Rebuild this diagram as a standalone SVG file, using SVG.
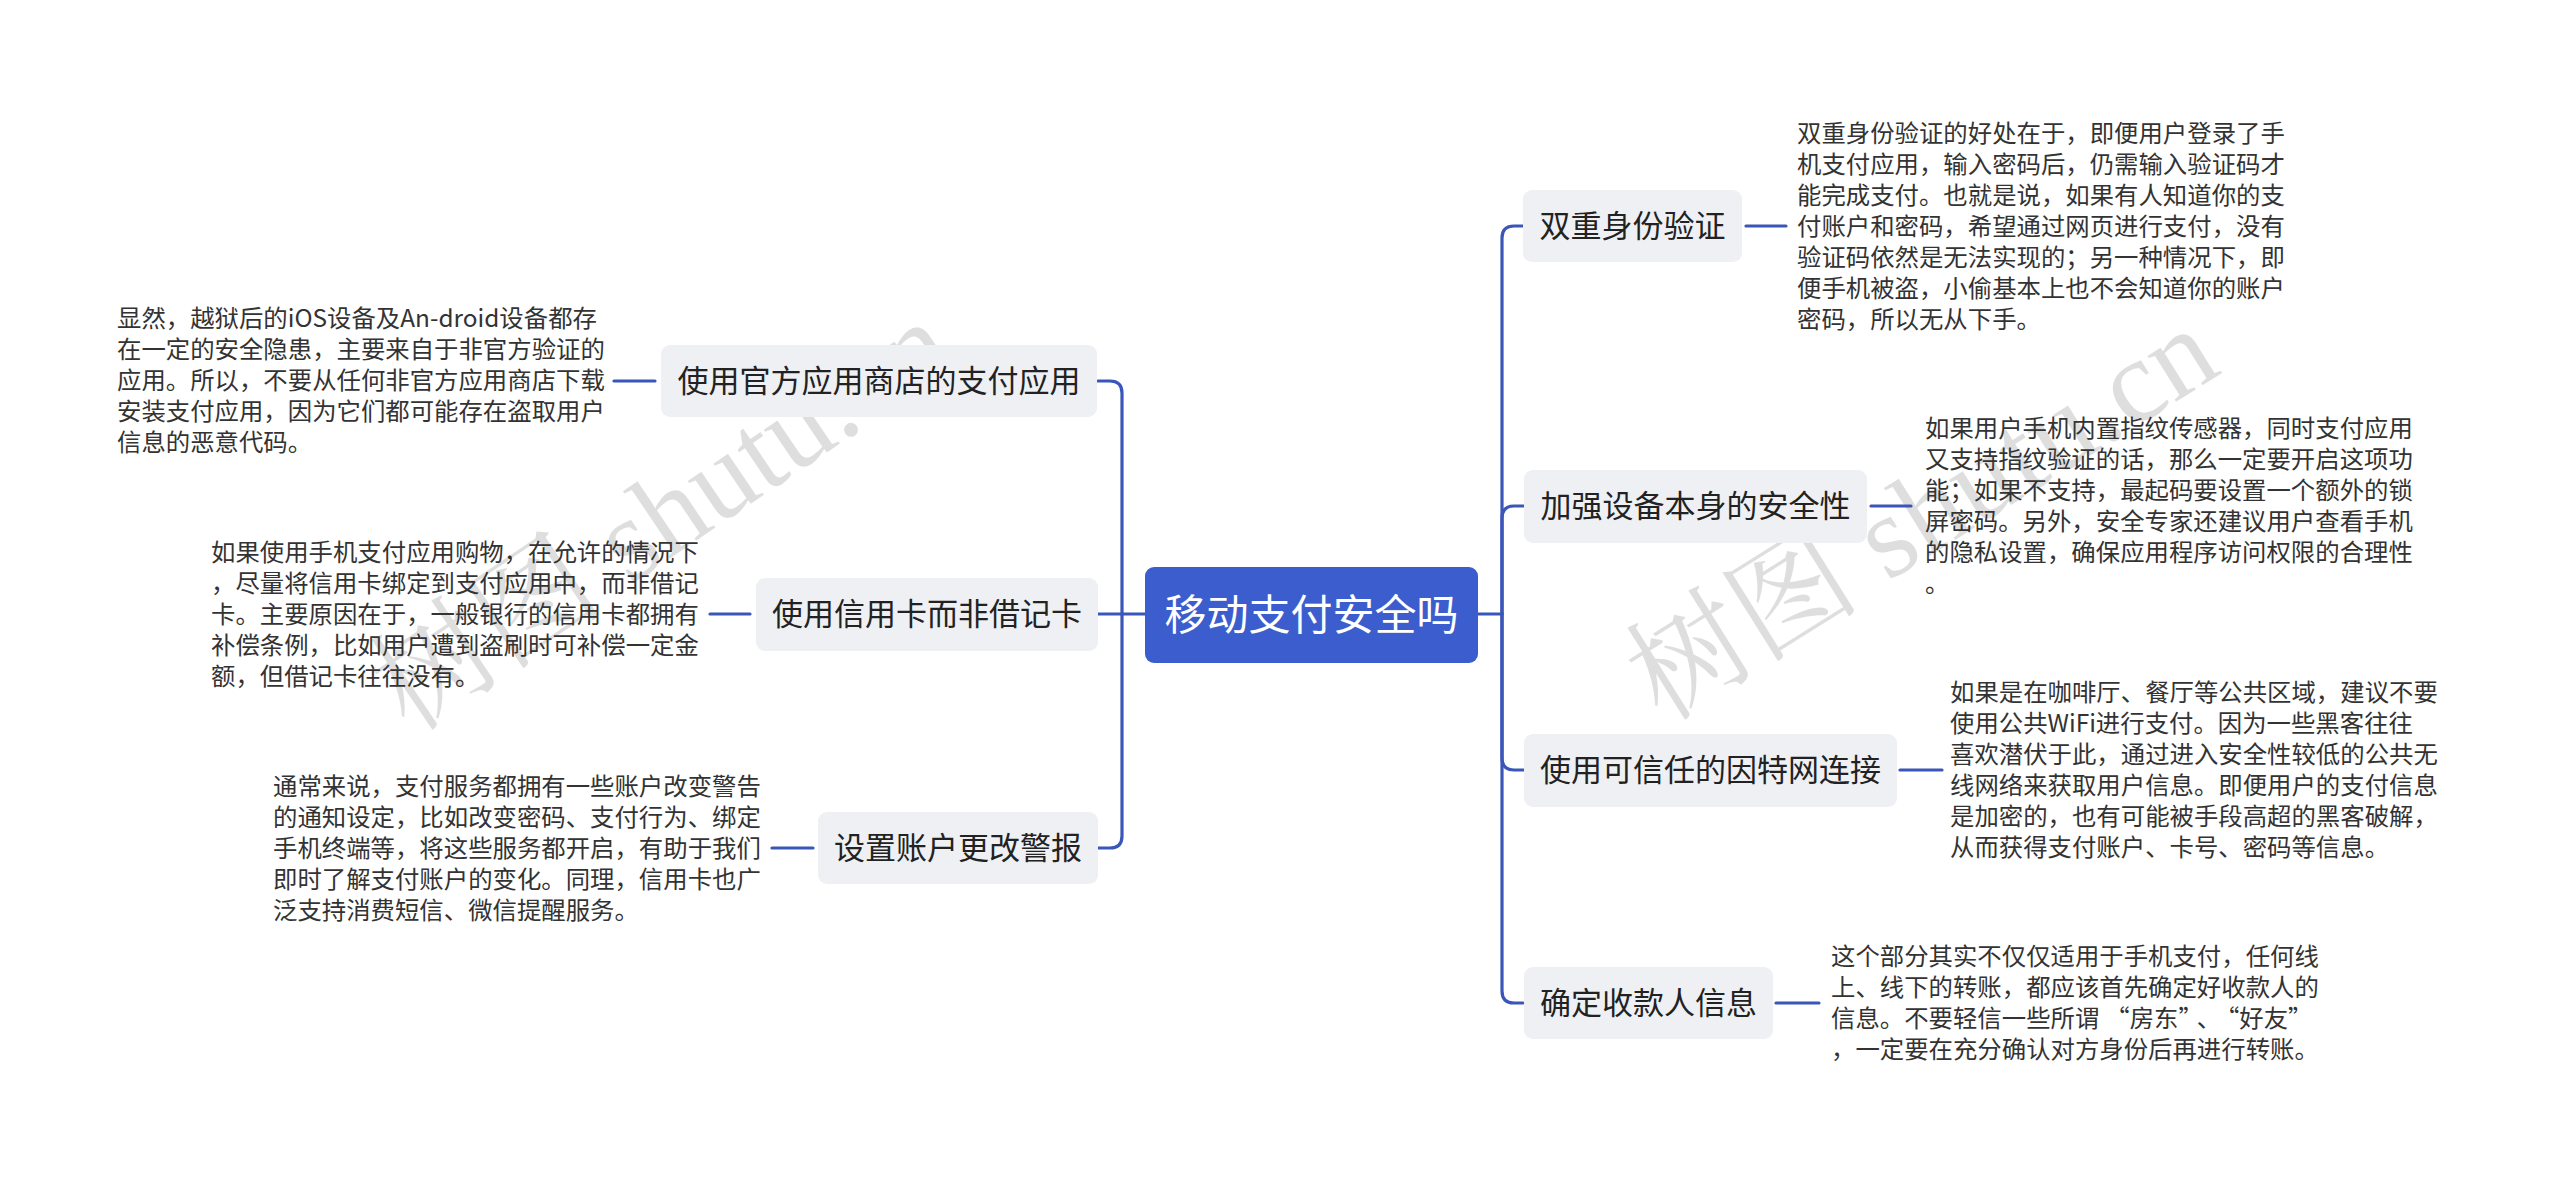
<svg xmlns="http://www.w3.org/2000/svg" width="2560" height="1183" viewBox="0 0 2560 1183">
<style>
.bg{fill:#ffffff}
.root rect{fill:#3c5dcd}
.root text{fill:#ffffff;font-family:"Noto Sans CJK SC","Noto Sans",sans-serif;font-size:42px;text-anchor:middle}
.branch rect{fill:#eef0f4}
.branch text{fill:#222222;font-family:"Noto Sans CJK SC","Noto Sans",sans-serif;font-size:31px;text-anchor:middle}
.desc text{fill:#333333;font-family:"Noto Sans CJK SC","Noto Sans",sans-serif;font-size:24.4px}
.conn path{fill:none;stroke:#3a56b8;stroke-width:3.2;stroke-linecap:round}
.wm{fill:#000000;fill-opacity:0.13;font-family:"Liberation Serif","Noto Serif CJK SC","Noto Sans CJK SC",serif;font-size:118px;text-anchor:middle;dominant-baseline:central}
</style>
<rect class="bg" x="0" y="0" width="2560" height="1183"/>

<g id="watermarks">
<text class="wm" x="662" y="516" transform="rotate(-34 662 516)">树图 shutu.cn</text>
<text class="wm" x="1922" y="514" transform="rotate(-32 1922 514)">树图 shutu.cn</text>
</g>

<g id="connectors" class="conn">
<path d="M1098,381 H1110 Q1122,381 1122,393 V836 Q1122,848 1110,848 H1098"/>
<path d="M1098,614 H1145"/>
<path d="M1478,614 H1502"/>
<path d="M1523,226 H1514 Q1502,226 1502,238 V991 Q1502,1003 1514,1003 H1523"/>
<path d="M1502,614 V518 Q1502,506 1514,506 H1524"/>
<path d="M1502,614 V758 Q1502,770 1514,770 H1524"/>
<path d="M614,381 H655"/>
<path d="M710,614 H750"/>
<path d="M772,848 H813"/>
<path d="M1746,226 H1786"/>
<path d="M1871,506 H1911"/>
<path d="M1900,770 H1942"/>
<path d="M1776,1003 H1819"/>
</g>

<g id="root" class="root">
<rect x="1145" y="567" width="333" height="96" rx="9"/>
<text x="1311.5" y="630">移动支付安全吗</text>
</g>

<g id="n-official" class="branch">
<rect x="661" y="345" width="436" height="72" rx="9"/>
<text x="879" y="392">使用官方应用商店的支付应用</text>
</g>
<g id="n-credit" class="branch">
<rect x="756" y="578" width="342" height="73" rx="9"/>
<text x="927" y="625">使用信用卡而非借记卡</text>
</g>
<g id="n-alert" class="branch">
<rect x="818" y="812" width="280" height="72" rx="9"/>
<text x="958" y="859">设置账户更改警报</text>
</g>
<g id="n-2fa" class="branch">
<rect x="1523" y="190" width="219" height="72" rx="9"/>
<text x="1632.5" y="237">双重身份验证</text>
</g>
<g id="n-device" class="branch">
<rect x="1524" y="470" width="343" height="73" rx="9"/>
<text x="1695.5" y="517">加强设备本身的安全性</text>
</g>
<g id="n-network" class="branch">
<rect x="1524" y="734" width="373" height="73" rx="9"/>
<text x="1710.5" y="781">使用可信任的因特网连接</text>
</g>
<g id="n-payee" class="branch">
<rect x="1524" y="967" width="249" height="72" rx="9"/>
<text x="1648.5" y="1014">确定收款人信息</text>
</g>

<g id="d-official" class="desc">
<text x="117" y="327">
<tspan x="117" y="327">显然，越狱后的iOS设备及An-droid设备都存</tspan>
<tspan x="117" y="358">在一定的安全隐患，主要来自于非官方验证的</tspan>
<tspan x="117" y="389">应用。所以，不要从任何非官方应用商店下载</tspan>
<tspan x="117" y="420">安装支付应用，因为它们都可能存在盗取用户</tspan>
<tspan x="117" y="451">信息的恶意代码。</tspan>
</text>
</g>
<g id="d-credit" class="desc">
<text x="211" y="561">
<tspan x="211" y="561">如果使用手机支付应用购物，在允许的情况下</tspan>
<tspan x="211" y="592">，尽量将信用卡绑定到支付应用中，而非借记</tspan>
<tspan x="211" y="623">卡。主要原因在于，一般银行的信用卡都拥有</tspan>
<tspan x="211" y="654">补偿条例，比如用户遭到盗刷时可补偿一定金</tspan>
<tspan x="211" y="685">额，但借记卡往往没有。</tspan>
</text>
</g>
<g id="d-alert" class="desc">
<text x="273" y="795">
<tspan x="273" y="795">通常来说，支付服务都拥有一些账户改变警告</tspan>
<tspan x="273" y="826">的通知设定，比如改变密码、支付行为、绑定</tspan>
<tspan x="273" y="857">手机终端等，将这些服务都开启，有助于我们</tspan>
<tspan x="273" y="888">即时了解支付账户的变化。同理，信用卡也广</tspan>
<tspan x="273" y="919">泛支持消费短信、微信提醒服务。</tspan>
</text>
</g>
<g id="d-2fa" class="desc">
<text x="1797" y="142">
<tspan x="1797" y="142">双重身份验证的好处在于，即便用户登录了手</tspan>
<tspan x="1797" y="173">机支付应用，输入密码后，仍需输入验证码才</tspan>
<tspan x="1797" y="204">能完成支付。也就是说，如果有人知道你的支</tspan>
<tspan x="1797" y="235">付账户和密码，希望通过网页进行支付，没有</tspan>
<tspan x="1797" y="266">验证码依然是无法实现的；另一种情况下，即</tspan>
<tspan x="1797" y="297">便手机被盗，小偷基本上也不会知道你的账户</tspan>
<tspan x="1797" y="328">密码，所以无从下手。</tspan>
</text>
</g>
<g id="d-device" class="desc">
<text x="1925" y="437">
<tspan x="1925" y="437">如果用户手机内置指纹传感器，同时支付应用</tspan>
<tspan x="1925" y="468">又支持指纹验证的话，那么一定要开启这项功</tspan>
<tspan x="1925" y="499">能；如果不支持，最起码要设置一个额外的锁</tspan>
<tspan x="1925" y="530">屏密码。另外，安全专家还建议用户查看手机</tspan>
<tspan x="1925" y="561">的隐私设置，确保应用程序访问权限的合理性</tspan>
<tspan x="1925" y="592">。</tspan>
</text>
</g>
<g id="d-network" class="desc">
<text x="1950" y="701">
<tspan x="1950" y="701">如果是在咖啡厅、餐厅等公共区域，建议不要</tspan>
<tspan x="1950" y="732">使用公共WiFi进行支付。因为一些黑客往往</tspan>
<tspan x="1950" y="763">喜欢潜伏于此，通过进入安全性较低的公共无</tspan>
<tspan x="1950" y="794">线网络来获取用户信息。即便用户的支付信息</tspan>
<tspan x="1950" y="825">是加密的，也有可能被手段高超的黑客破解，</tspan>
<tspan x="1950" y="856">从而获得支付账户、卡号、密码等信息。</tspan>
</text>
</g>
<g id="d-payee" class="desc">
<text x="1831" y="965">
<tspan x="1831" y="965">这个部分其实不仅仅适用于手机支付，任何线</tspan>
<tspan x="1831" y="996">上、线下的转账，都应该首先确定好收款人的</tspan>
<tspan x="1831" y="1027">信息。不要轻信一些所谓</tspan><tspan dx="6">“房东”</tspan><tspan dx="6">、</tspan><tspan dx="6">“好友”</tspan>
<tspan x="1831" y="1058">，一定要在充分确认对方身份后再进行转账。</tspan>
</text>
</g>
</svg>
